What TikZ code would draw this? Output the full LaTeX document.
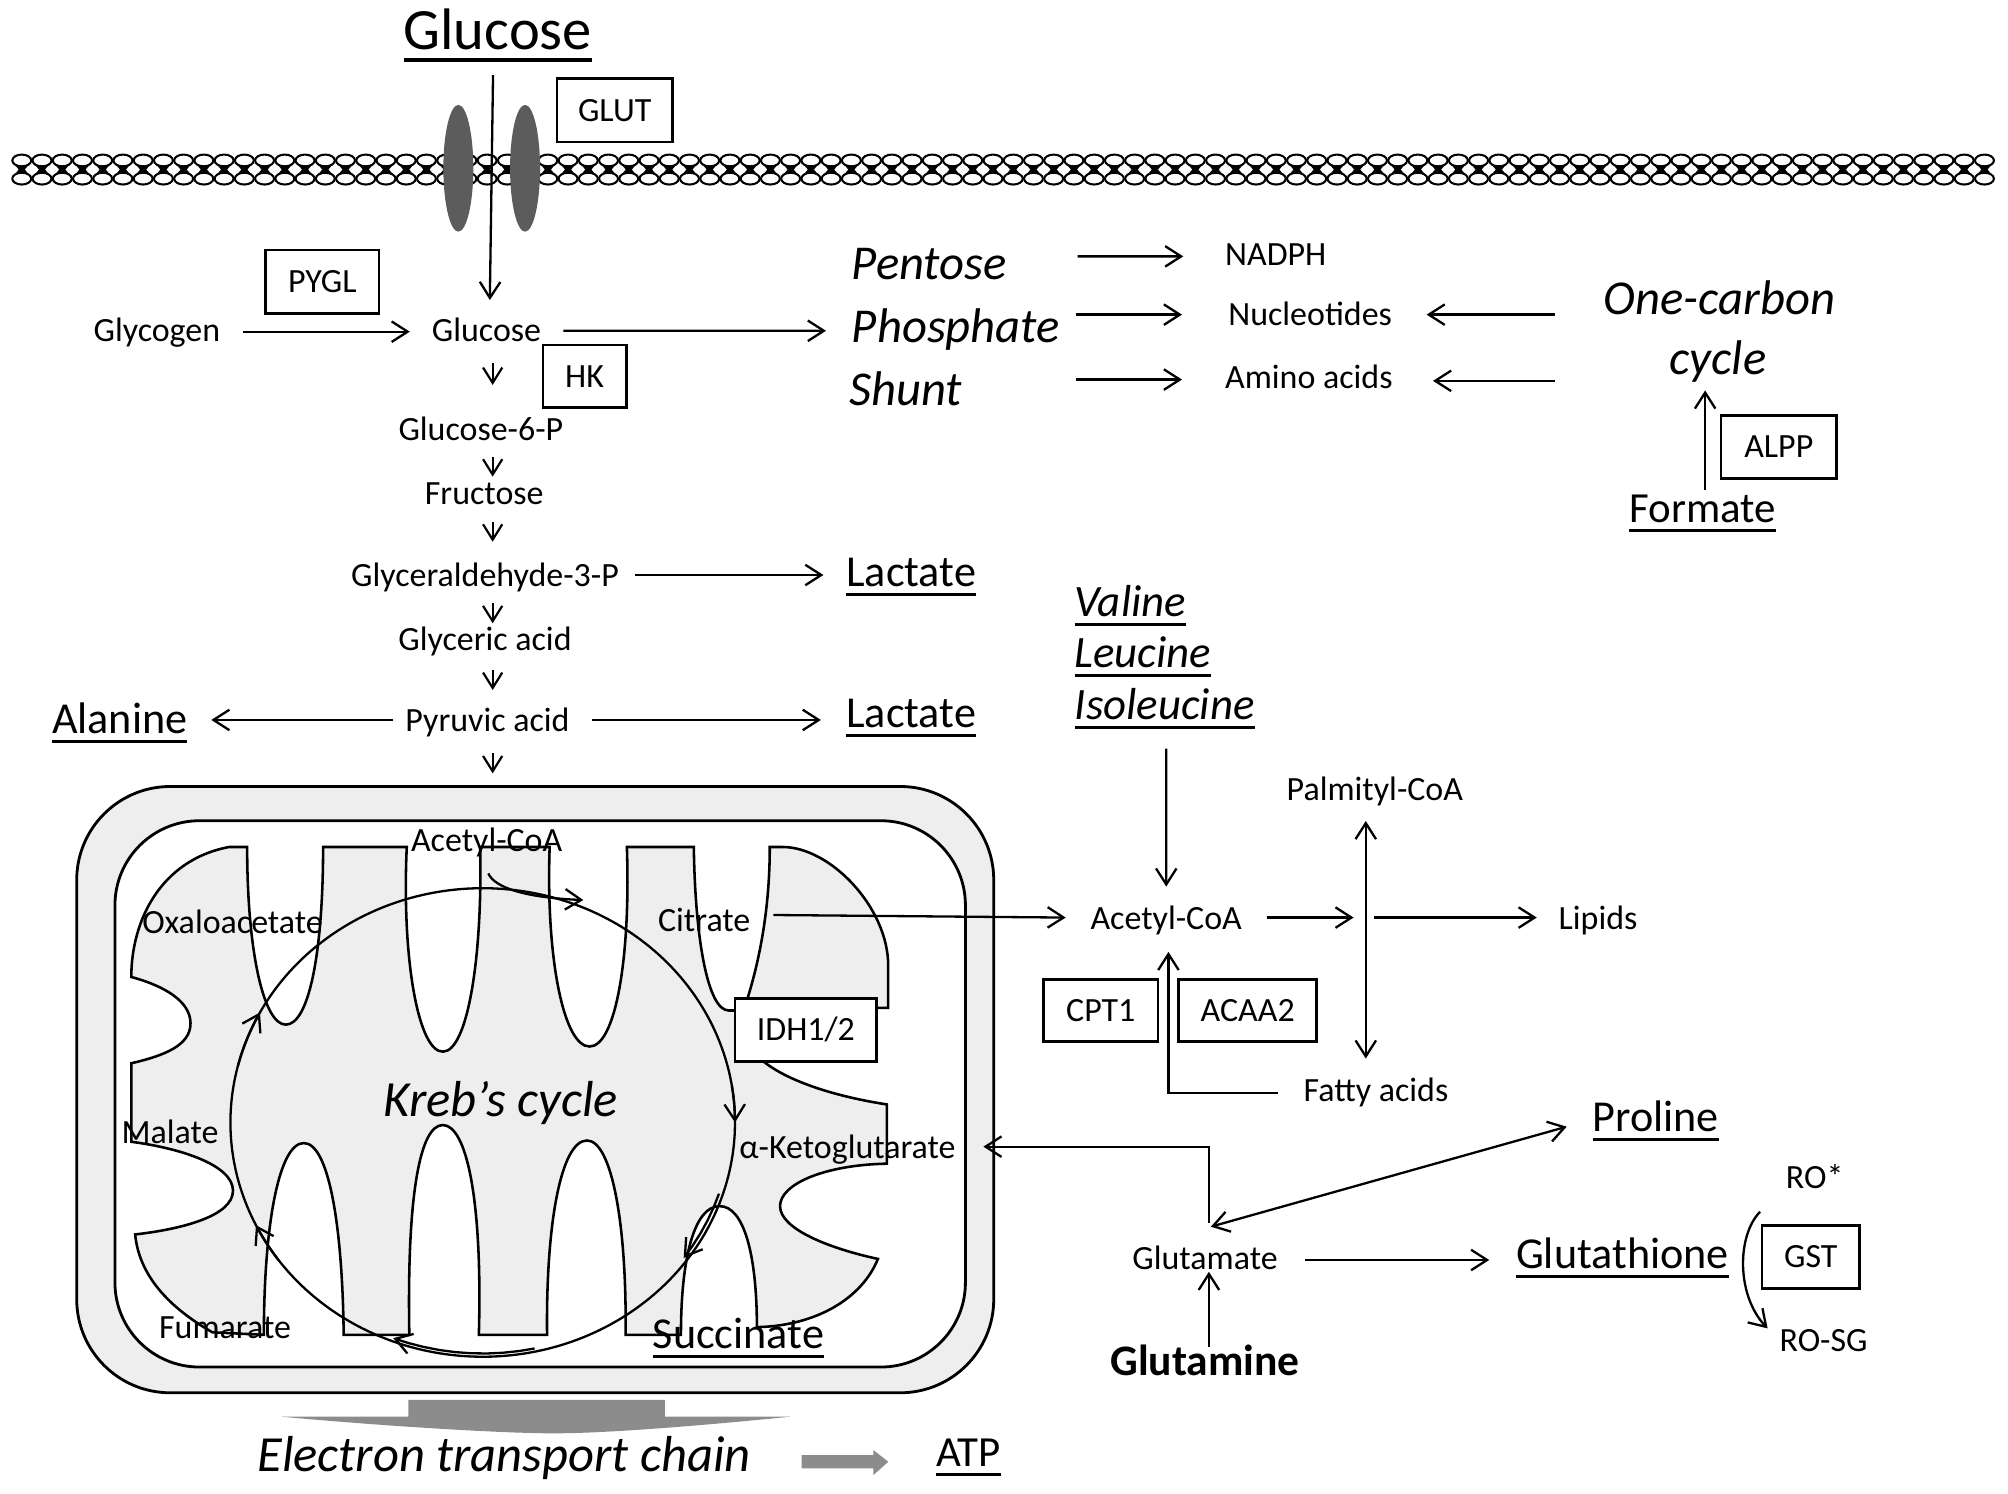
\documentclass[tikz,border=0pt]{standalone}
\usepackage{fontspec}
\setmainfont{Carlito}
\usetikzlibrary{arrows.meta,calc}
\definecolor{mgray}{gray}{0.935}
\definecolor{tgray}{gray}{0.36}
\definecolor{egray}{gray}{0.55}
\newcommand\ulx[1]{\setbox0\hbox{#1}\rlap{\raisebox{-0.21em}{\rule{\wd0}{0.068em}}}\box0}
\begin{document}
\begin{tikzpicture}[x=1pt,y=-1pt,
  sm/.style={inner sep=0pt, anchor=base, font=\fontsize{26.5}{30}\selectfont},
  md/.style={inner sep=0pt, anchor=base, font=\fontsize{34.5}{40}\selectfont},
  mds/.style={inner sep=0pt, anchor=base, font=\fontsize{33.5}{40}\selectfont},
  mdi/.style={inner sep=0pt, anchor=base, font=\fontsize{35}{40}\selectfont\itshape},
  mdb/.style={inner sep=0pt, anchor=base, font=\fontsize{34}{40}\selectfont\bfseries},
  lgi/.style={inner sep=0pt, anchor=base, font=\fontsize{38}{44}\selectfont\itshape},
  xgi/.style={inner sep=0pt, anchor=base, font=\fontsize{39.5}{44}\selectfont\itshape},
  tt/.style={inner sep=0pt, anchor=base, font=\fontsize{45.7}{52}\selectfont},
  box/.style={draw, line width=2pt, fill=white, inner sep=0pt, text height=17pt, text depth=0pt, font=\fontsize{26.5}{30}\selectfont},
  arr/.style={line width=1.8pt, -{Straight Barb[length=12.5pt,width=16pt]}},
  darr/.style={line width=1.8pt, {Straight Barb[length=12.5pt,width=16pt]}-{Straight Barb[length=12.5pt,width=16pt]}},
  varr/.style={line width=1.7pt, -{Straight Barb[length=12pt,width=15pt]}},
  mline/.style={line width=2pt}]
\fill[white] (0,0) rectangle (1568,1166.6);
\useasboundingbox (0,0) rectangle (1568,1166.6);

% ---------- membrane ----------
\foreach \k in {0,...,97}{
  \pgfmathsetmacro\xx{17+15.8*\k}
  \fill (\xx-5,129.2) -- (\xx+5,129.2) -- (\xx+2.4,132.4) -- (\xx+5,135.6) -- (\xx-5,135.6) -- (\xx-2.4,132.4) -- cycle;
  \draw[line width=1.6pt] (\xx,125.3) ellipse [x radius=7.4pt, y radius=4.6pt];
  \draw[line width=1.6pt] (\xx,139.5) ellipse [x radius=7.4pt, y radius=4.6pt];
}
\fill[tgray] (357.9,131.4) ellipse [x radius=11.7pt, y radius=49.5pt];
\fill[tgray] (410,131.4) ellipse [x radius=11.7pt, y radius=49.5pt];

% ---------- mitochondrion ----------
\begin{scope}[scale=1.00515]
\draw[line width=2.2pt, fill=mgray, rounded corners=73pt] (59.6,611) rectangle (772,1082);
\draw[line width=2.2pt, fill=white, rounded corners=66pt] (89.3,637.6) rectangle (750,1062);
\path[fill=mgray, draw=black, mline]
 (102,826) .. controls (128,820) and (148,812) .. (148,795)
 .. controls (148,778) and (128,766) .. (102,759)
 .. controls (102,715) and (125,668) .. (178,658)
 -- (192,658)
 .. controls (192,740) and (205,796) .. (222,796)
 .. controls (240,796) and (251,740) .. (251,658)
 -- (316,658)
 .. controls (312,745) and (325,817) .. (344,817)
 .. controls (363,817) and (375,745) .. (373,658)
 -- (427,658)
 .. controls (424,745) and (438,813) .. (458,813)
 .. controls (478,813) and (490,745) .. (487,658)
 -- (539,658)
 .. controls (540,730) and (550,785) .. (566,785)
 -- (580,785) -- (590,822)
 .. controls (610,840) and (650,852) .. (689,858)
 -- (689,904)
 .. controls (640,905) and (606,920) .. (606,937)
 .. controls (606,955) and (645,970) .. (682,978)
 .. controls (670,1008) and (635,1030) .. (588,1031)
 .. controls (588,975) and (578,937) .. (559,937)
 .. controls (540,937) and (529,975) .. (529,1037)
 -- (486,1037)
 .. controls (487,950) and (475,886) .. (456,886)
 .. controls (436,886) and (424,950) .. (425,1037)
 -- (372,1037)
 .. controls (375,930) and (362,874) .. (344,874)
 .. controls (326,874) and (316,930) .. (318,1037)
 -- (267,1037)
 .. controls (266,950) and (255,888) .. (236,888)
 .. controls (217,888) and (205,950) .. (205,1037)
 -- (165,1035)
 .. controls (130,1015) and (108,990) .. (105,959)
 .. controls (140,955) and (181,945) .. (181,925)
 .. controls (181,905) and (140,892) .. (102,887)
 -- cycle;
\path[fill=mgray, draw=black, mline]
 (598,658) -- (608,658) .. controls (645,658) and (690,705) .. (690,750)
 -- (690,783) -- (684,783) -- (580,778)
 .. controls (592,740) and (598,700) .. (598,658) -- cycle;
% Krebs cycle
\draw[line width=1.8pt] plot[domain=0:360, samples=140, smooth] ({375+196*cos(\x)},{872-182*sin(\x)}) -- cycle;
\draw[arr] plot[domain=166:152, samples=6] ({375+196*cos(\x)},{872-182*sin(\x)});
\draw[arr] plot[domain=216:206, samples=6] ({375+196*cos(\x)},{872-182*sin(\x)});
\draw[arr] plot[domain=282:249, samples=10] ({375+194*cos(\x)},{872-179.5*sin(\x)});
\draw[arr] plot[domain=342:324, samples=6] ({375+193*cos(\x)},{872-179*sin(\x)});
\draw[arr] plot[domain=9:0, samples=6] ({375+196*cos(\x)},{872-182*sin(\x)});
% electron transport chain shapes
\fill[egray] (218.8,1100.6) -- (317.2,1100.6) -- (317.2,1087.6) -- (516.6,1087.6) -- (516.6,1100.6) -- (613.7,1100.6)
  .. controls (540,1108) and (470,1113.5) .. (430,1113.5)
  .. controls (390,1113.5) and (300,1108) .. (218.8,1100.6) -- cycle;
\fill[egray] (622.8,1130.4) -- (678.5,1130.4) -- (678.5,1126.5) -- (690.1,1135.6) -- (678.5,1145.9) -- (678.5,1140.7) -- (622.8,1140.7) -- cycle;
\end{scope}

% ---------- boxes ----------
\node[box, minimum width=90pt, minimum height=49.5pt] (glut) at (480,86) {GLUT};
\node[box, minimum width=88.5pt, minimum height=49.5pt] (pygl) at (251.7,220) {PYGL};
\node[box, minimum width=65pt, minimum height=48.6pt] (hk) at (456.5,293.7) {HK};
\node[box, minimum width=90pt, minimum height=49.4pt] (alpp) at (1389,349) {ALPP};
\node[box, minimum width=89.5pt, minimum height=48.4pt] (cpt1) at (859.6,789) {CPT1};
\node[box, minimum width=107.7pt, minimum height=48.4pt] (acaa2) at (974.3,789) {ACAA2};
\node[box, minimum width=110.6pt, minimum height=49.4pt] (idh) at (629.3,804.3) {IDH1/2};
\node[box, minimum width=76pt, minimum height=49pt] (gst) at (1414,981.6) {GST};

% ---------- texts ----------
\node[tt] (glucT) at (388.7,39) {\ulx{Glucose}};
\node[sm] (glycogen) at (122.5,266.8) {Glycogen};
\node[sm] (glucS) at (379.9,266.4) {Glucose};
\node[sm] (g6p) at (375.5,343.6) {Glucose-6-P};
\node[sm] (fructose) at (378.1,393.6) {Fructose};
\node[sm] (gap) at (378.7,458.1) {Glyceraldehyde-3-P};
\node[sm] (glyceric) at (378.7,507.6) {Glyceric acid};
\node[sm] (pyruvic) at (380.7,571.3) {Pyruvic acid};
\node[md] (lact1) at (711.5,458) {\ulx{Lactate}};
\node[md] (lact2) at (711.5,568) {\ulx{Lactate}};
\node[md] (alanine) at (93.5,573) {\ulx{Alanine}};
\node[lgi, anchor=base west] (pentose) at (665,218.6) {Pentose};
\node[lgi, anchor=base west] (phosphate) at (665,267.8) {Phosphate};
\node[lgi, anchor=base west] (shunt) at (663,316.3) {Shunt};
\node[sm, anchor=base west] (nadph) at (956.5,207.7) {NADPH};
\node[sm, anchor=base west] (nucleo) at (959,254) {Nucleotides};
\node[sm, anchor=base west] (amino) at (956.5,303.3) {Amino acids};
\node[lgi] (onec) at (1342.8,245.7) {One-carbon};
\node[lgi] (cyc) at (1341.5,292.8) {cycle};
\node[mds] (formate) at (1329.5,408) {\ulx{Formate}};
\node[mdi, anchor=base west] (valine) at (839,481.2) {\ulx{Valine}};
\node[mdi, anchor=base west] (leucine) at (839,521.5) {\ulx{Leucine}};
\node[mdi, anchor=base west] (isoleu) at (839,561.8) {\ulx{Isoleucine}};
\node[sm] (acoa) at (910.6,725.8) {Acetyl-CoA};
\node[sm] (palm) at (1073.6,625) {Palmityl-CoA};
\node[sm] (lipids) at (1247.9,725.8) {Lipids};
\node[sm] (fatty) at (1074.5,860.3) {Fatty acids};
\coordinate (jn) at (1066.5,716.5);
\node[md] (proline) at (1293,883.7) {\ulx{Proline}};
\node[sm] (glutamate) at (941,991.7) {Glutamate};
\node[md] (glutathione) at (1267,990.4) {\ulx{Glutathione}};
\node[mdb] (glutamine) at (941,1073.7) {Glutamine};
\node[sm] (ro) at (1417,928) {RO*};
\node[sm] (rosg) at (1424,1055.5) {RO-SG};
\node[sm] (macoa) at (380,665) {Acetyl-CoA};
\node[sm] (oxalo) at (181.6,728.8) {Oxaloacetate};
\node[sm] (citrate) at (549.9,727.5) {Citrate};
\node[xgi] (kreb) at (391,872) {Kreb’s cycle};
\node[sm] (malate) at (132.8,892.8) {Malate};
\node[sm] (akg) at (661.8,904.5) {α-Ketoglutarate};
\node[sm] (fumarate) at (175.7,1045) {Fumarate};
\node[md] (succinate) at (576.6,1052.9) {\ulx{Succinate}};
\node[xgi] (etc) at (393.7,1149.2) {Electron transport chain};
\node[mds] (atp) at (756.1,1145.3) {\ulx{ATP}};

% ---------- connectors ----------
\draw[arr] ($(glucT.base)+(-3.7,19.6)$) -- ($(glucS.base)+(2.6,-32.1)$);
\draw[arr] ($(glycogen.base)+(67.5,-7.8)$) -- ($(glucS.base)+(-59.9,-7.4)$);
\draw[arr] ($(glucS.base)+(60.1,-8.1)$) -- ($(phosphate.base west)+(-20,-9.5)$);
\draw[varr] ($(glucS.base)+(4.8,17.3)$) -- ++(0,16.9);
\draw[varr] ($(g6p.base)+(9.2,13)$) -- ++(0,15.6);
\draw[varr] ($(fructose.base)+(6.6,13.8)$) -- ++(0,15.6);
\draw[varr] ($(gap.base)+(6,13)$) -- ++(0,15.6);
\draw[varr] ($(glyceric.base)+(6,15.6)$) -- ++(0,15.6);
\draw[varr] ($(pyruvic.base)+(4,16.9)$) -- ++(0,15.7);
\draw[arr] ($(gap.base)+(117.2,-9.1)$) -- ($(lact1.base)+(-68.5,-9)$);
\draw[arr] ($(pyruvic.base)+(-73.6,-9.1)$) -- ($(alanine.base)+(71.5,-10.8)$);
\draw[arr] ($(pyruvic.base)+(81.3,-9.1)$) -- ($(lact2.base)+(-70.5,-5.8)$);
\draw[arr] ($(pentose.base west)+(176.5,-18.4)$) -- ($(nadph.base west)+(-32.5,-7.5)$);
\draw[arr] ($(phosphate.base west)+(175,-22.1)$) -- ($(nucleo.base west)+(-36,-8.3)$);
\draw[arr] ($(shunt.base west)+(177,-19.9)$) -- ($(amino.base west)+(-33.5,-6.9)$);
\draw[arr] ($(onec.base)+(-128.8,0)$) -- ($(nucleo.base west)+(155,-8.3)$);
\draw[arr] ($(cyc.base)+(-127.5,4.6)$) -- ($(amino.base west)+(162.5,-5.9)$);
\draw[arr] ($(formate.base)+(2,-25.4)$) -- ($(cyc.base)+(-10,12.1)$);
\draw[arr] ($(isoleu.base west)+(71.7,22.8)$) -- ($(acoa.base)+(0.1,-33.5)$);
\draw[arr] ($(citrate.base)+(54,-13)$) -- ($(acoa.base)+(-78.4,-9.3)$);
\draw[arr] ($(acoa.base)+(78.4,-9.3)$) -- ($(jn)+(-9.5,0)$);
\draw[darr] ($(palm.base)+(-7.1,16.1)$) -- ($(fatty.base)+(-8,-33.7)$);
\draw[arr] ($(jn)+(6.3,0)$) -- ($(lipids.base)+(-47.9,-9.3)$);
\draw[arr] ($(fatty.base)+(-76.7,-6.7)$) -| ($(acoa.base)+(1.8,17.5)$);
\draw[arr] ($(glutamate.base)+(3.1,-36.7)$) |- ($(akg.base)+(106.1,-9.1)$);
\draw[darr] ($(glutamate.base)+(4.5,-33.8)$) -- ($(proline.base)+(-69.6,-3.9)$);
\draw[arr] ($(glutamine.base)+(3,-22.1)$) -- ($(glutamate.base)+(3,1.4)$);
\draw[arr] ($(glutamate.base)+(78.4,-7.8)$) -- ($(glutathione.base)+(-104.1,-6.5)$);
\draw[arr] ($(ro.base)+(-42.6,18.2)$) .. controls (1356,965) and (1356,1012) .. ($(rosg.base)+(-43.7,-18.2)$);
\draw[arr] ($(macoa.base)+(1.3,17)$) .. controls (386,693) and (410,701) .. ($(macoa.base)+(75.5,37.8)$);
\end{tikzpicture}
\end{document}
